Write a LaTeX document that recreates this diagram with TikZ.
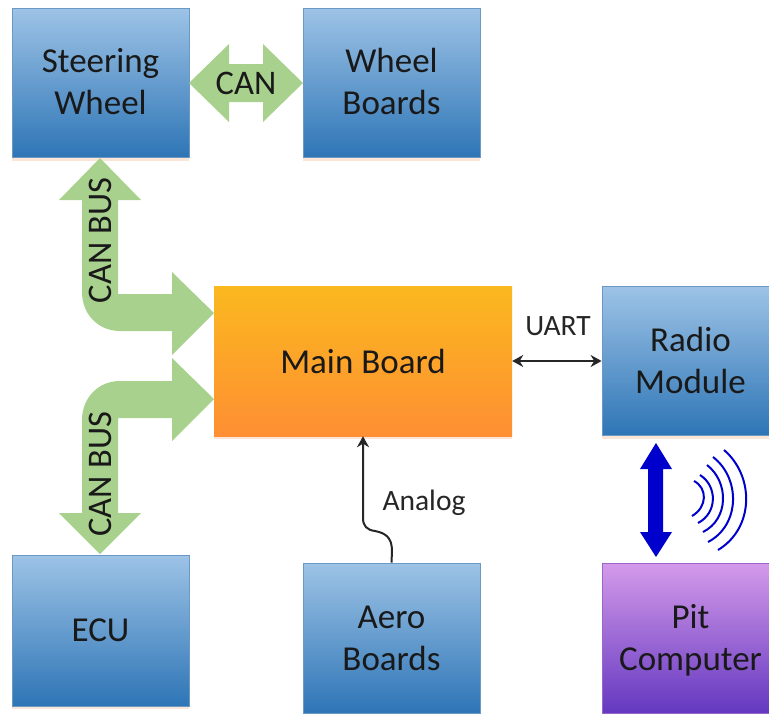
\documentclass[tikz,border=0pt]{standalone}
\usepackage{fontspec}
\setmainfont{Carlito}
\definecolor{bluetop}{HTML}{9DC3E6}
\definecolor{bluebot}{HTML}{2E75B6}
\definecolor{blueedge}{HTML}{6C98C4}
\definecolor{orangetop}{HTML}{FBB81F}
\definecolor{orangebot}{HTML}{FE8F33}
\definecolor{purpletop}{HTML}{D49AEA}
\definecolor{purplebot}{HTML}{6438C0}
\definecolor{purpleedge}{HTML}{9A66C8}
\definecolor{greenarrow}{HTML}{A9D18E}
\definecolor{bluearrow}{HTML}{0000CC}
\definecolor{glow}{HTML}{FBE5D6}
\usetikzlibrary{arrows.meta}
\newcommand\liftby[1]{\par\vspace{#1}}
\tikzset{
 x=1pt,y=-1pt,
 box/.style={minimum width=#1,inner sep=0pt,align=center,font=\fontsize{35}{42}\selectfont,text=black!90},
 bluebox/.style={box=177pt,minimum height=149pt,draw=blueedge,line width=.8pt,top color=bluetop,bottom color=bluebot},
 orangebox/.style={box=298pt,minimum height=150pt,top color=orangetop,bottom color=orangebot},
 purplebox/.style={box=177pt,minimum height=150pt,draw=purpleedge,line width=.8pt,top color=purpletop,bottom color=purplebot},
 greenshape/.style={fill=greenarrow,draw=none},
 wire/.style={line width=2pt,black!85,-{Stealth[length=11pt,width=12pt]}},
 wave/.style={bluearrow,line width=2pt},
 label/.style={font=\fontsize{29.5}{32}\selectfont,inner sep=0pt,text=black!85},
 biglabel/.style={font=\fontsize{34.5}{38}\selectfont,inner sep=0pt,text=black!90},
}
\begin{document}
\begin{tikzpicture}
\useasboundingbox (0,0) rectangle (769,713);
% soft glow
\fill[glow] (12,158) rectangle (189,161);
\fill[glow] (303,158) rectangle (480,161);
\fill[glow] (214,436) rectangle (512,439);
\fill[glow] (602,436) rectangle (769,439);
\fill[glow] (12,706) rectangle (189,709);
% boxes
\node[bluebox] (steer) at (100.5,83) {Steering\\Wheel\liftby{2pt}};
\node[bluebox] (wheel) at (391.5,83) {Wheel\\Boards\liftby{3pt}};
\node[orangebox] (main) at (363,361) {Main Board\liftby{2pt}};
\node[bluebox] (radio) at (690.5,361) {Radio\\Module\liftby{2pt}};
\node[bluebox,minimum height=151pt] (ecu) at (100.5,630.5) {ECU};
\node[bluebox,minimum height=150pt] (aero) at (391.5,638) {Aero\\Boards};
\node[purplebox] (pit) at (690.5,638) {\rule{0pt}{28pt}Pit\\Computer};
% green block arrows
\coordinate (a1tip) at (100,158);
\coordinate (a1end) at (214,313);
\coordinate (a2tip) at (100,554);
\coordinate (a2end) at (214,399);
\fill[greenshape] (a1tip) -- (141,200) -- (118,200) -- (118,294) -- (172,294) -- (172,272) -- (a1end) -- (172,355) -- (172,331)
  -- (120,331) .. controls (98,331) and (82,314) .. (82,292) -- (82,200) -- (59,200) -- cycle;
\fill[greenshape] (a2tip) -- (141,513) -- (118,513) -- (118,418) -- (172,418) -- (172,441) -- (a2end) -- (172,358) -- (172,381)
  -- (120,381) .. controls (98,381) and (82,398) .. (82,420) -- (82,513) -- (59,513) -- cycle;
\coordinate (canl) at (189,83);
\coordinate (canr) at (303,83);
\fill[greenshape] (canl) -- (229,44) -- (229,64) -- (263,64) -- (263,44) -- (canr) -- (263,122) -- (263,102) -- (229,102) -- (229,122) -- cycle;
\node[biglabel] (canlabel) at (246,83) {CAN};
\node[biglabel,rotate=90] (canbus1) at (100,240.5) {CAN BUS};
\node[biglabel,rotate=90] (canbus2) at (100,474) {CAN BUS};
% thin connectors
\draw[wire,{Stealth[length=11pt,width=12pt]}-{Stealth[length=11pt,width=12pt]}] (main.east |- 0,361) -- (radio.west |- 0,361);
\node[label] (uart) at (558,326) {UART};
\draw[wire] (aero.north) -- (392,551) .. controls (392,537) and (385,533) .. (375,531) .. controls (367,530) and (363,526) .. (363,518) -- (main.south -| 363,0);
\node[label] (analog) at (424,502.5) {Analog};
% radio link
\coordinate (bt) at (656,443);
\coordinate (bb) at (656,557);
\fill[bluearrow] (bt) -- (672,469) -- (663,469) -- (663,532) -- (672,532) -- (bb) -- (640,532) -- (648,532) -- (648,469) -- (640,469) -- cycle;
\draw[wave] (694,481) .. controls (707.5,488) and (707.5,507) .. (692,516);
\draw[wave] (700,475) .. controls (717.5,486) and (717.5,513) .. (698,523);
\draw[wave] (707,465) .. controls (729,482) and (729,519) .. (703,532);
\draw[wave] (713,457) .. controls (740.5,478) and (740.5,525) .. (708,542);
\draw[wave] (724,450) .. controls (754.5,476) and (754.5,528) .. (718,550);
\end{tikzpicture}
\end{document}
